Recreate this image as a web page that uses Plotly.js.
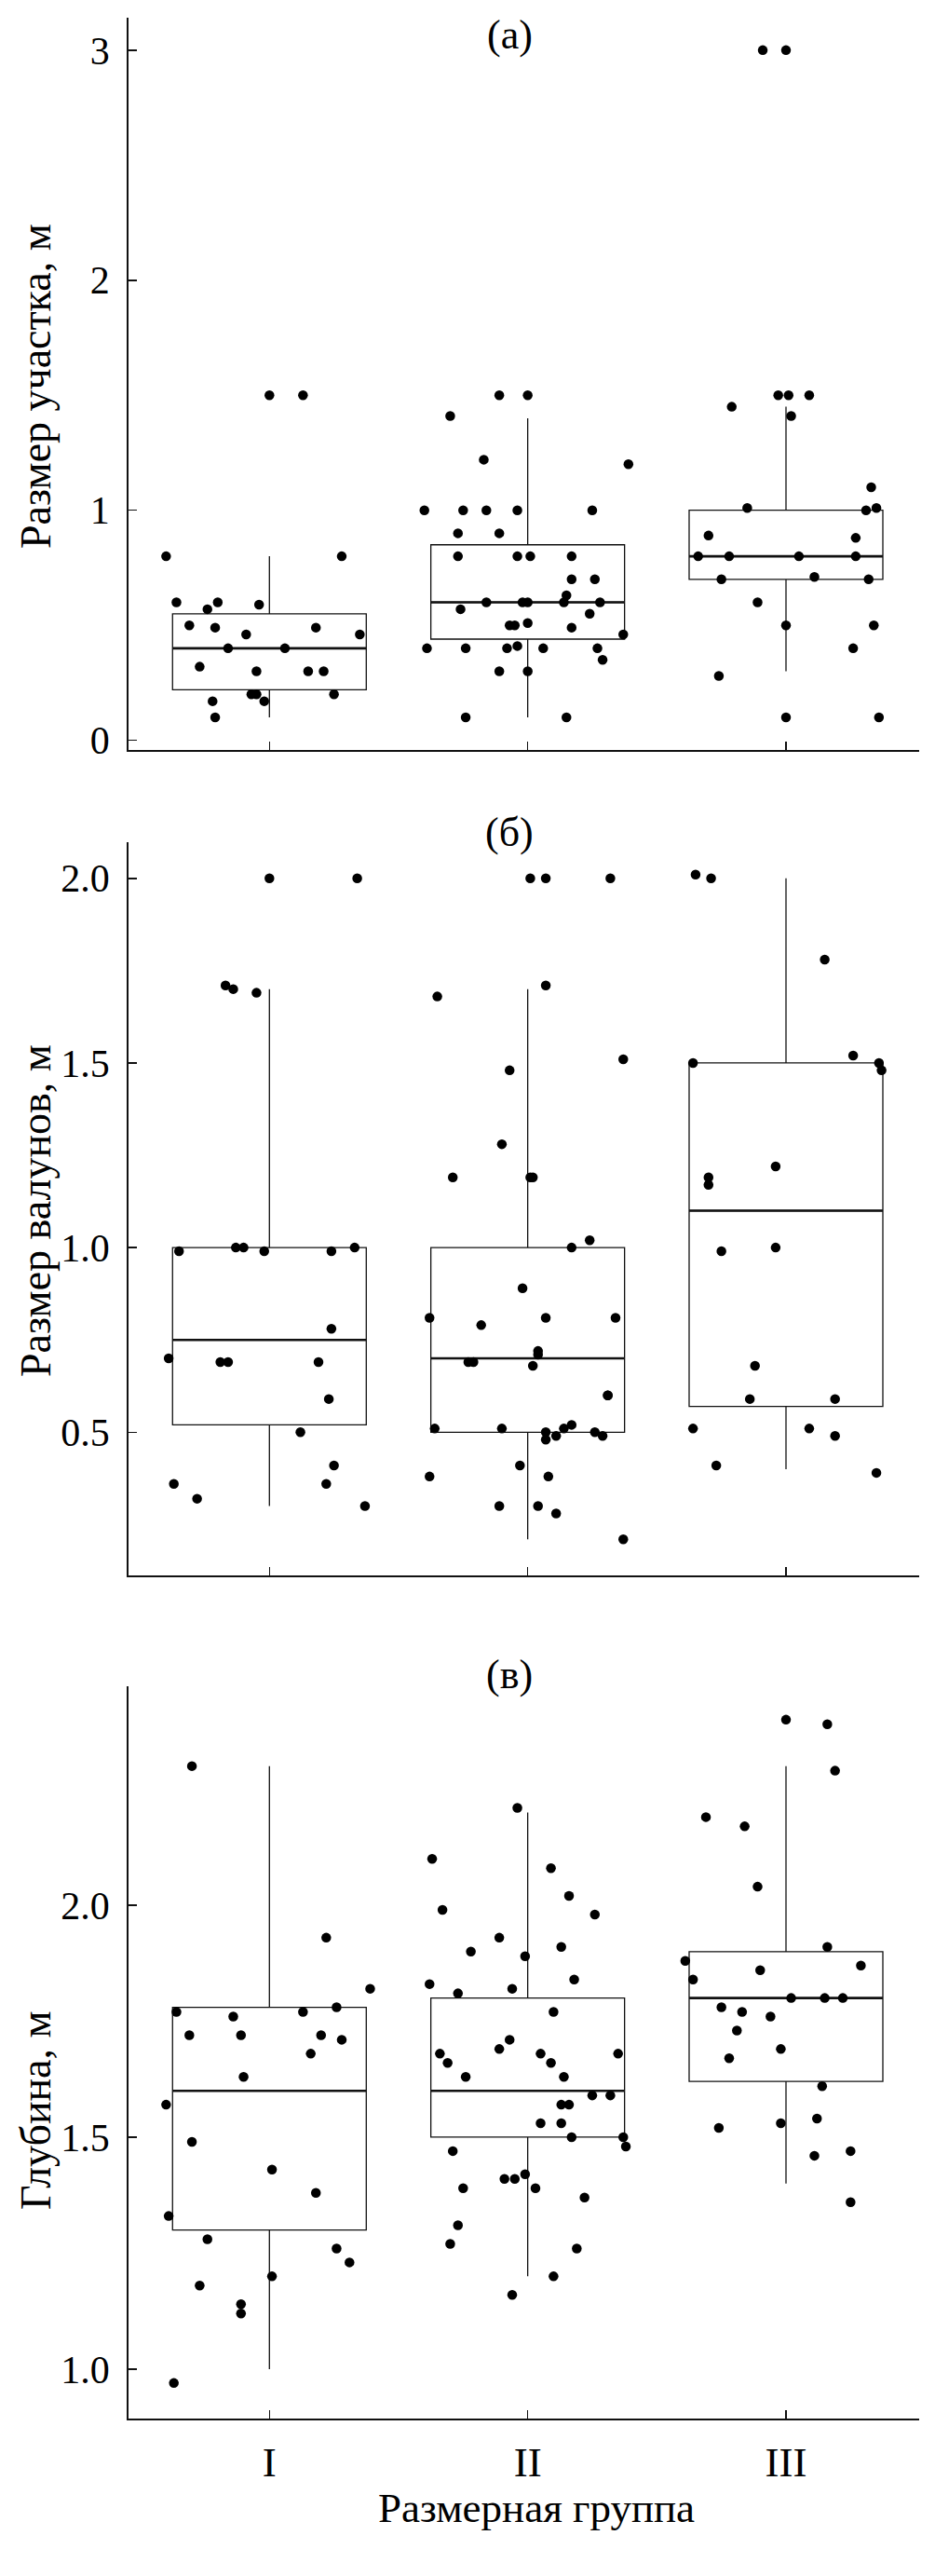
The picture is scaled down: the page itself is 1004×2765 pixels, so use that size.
<!DOCTYPE html>
<html><head><meta charset="utf-8">
<script src="https://cdn.plot.ly/plotly-3.0.1.min.js"></script>
<style>html,body{margin:0;padding:0;background:#fff}</style>
</head><body><div id="chart" style="width:1004px;height:2765px"></div>
<script>
// ---------- categories ----------
const groupLabels = ["I", "II", "III"];
const groupPos = [0, 1, 2];

// ---------- panel (а): Размер участка ----------
const aBoxQ1 = [0.22, 0.44, 0.70];
const aBoxMed = [0.40, 0.60, 0.80];
const aBoxQ3 = [0.55, 0.85, 1.00];
const aBoxLo = [0.10, 0.10, 0.30];
const aBoxHi = [0.80, 1.40, 1.45];
const aI = [0.80,1.50,1.50,0.80,0.60,0.57,0.60,0.59,0.50,0.49,0.46,0.40,0.40,0.49,0.46,0.32,0.30,0.30,0.30,0.17,0.10,0.20,0.20,0.17,0.20];
const aIjit = [-0.40,0.00,0.13,0.28,-0.36,-0.24,-0.20,-0.04,-0.31,-0.21,-0.09,-0.16,0.06,0.18,0.35,-0.27,-0.05,0.15,0.21,-0.22,-0.21,-0.07,-0.05,-0.02,0.25];
const aII = [1.41,1.50,1.50,1.22,1.20,1.00,1.00,1.00,1.00,1.00,0.90,0.90,0.80,0.80,0.80,0.80,0.70,0.70,0.63,0.60,0.60,0.60,0.60,0.60,0.57,0.55,0.50,0.50,0.51,0.49,0.46,0.40,0.40,0.40,0.41,0.40,0.40,0.35,0.30,0.30,0.10,0.10];
const aIIjit = [-0.30,-0.11,0.00,-0.17,0.39,-0.40,-0.25,-0.16,-0.04,0.25,-0.27,-0.11,-0.27,-0.04,0.01,0.17,0.17,0.26,0.15,-0.16,-0.02,0.00,0.14,0.28,-0.26,0.24,-0.07,-0.05,0.00,0.17,0.37,-0.39,-0.24,-0.08,-0.04,0.06,0.27,0.29,-0.11,0.00,-0.24,0.15];
const aIII = [3.00,3.00,1.50,1.50,1.50,1.45,1.41,1.10,1.01,1.00,1.01,0.89,0.88,0.80,0.80,0.80,0.80,0.70,0.71,0.70,0.60,0.50,0.50,0.40,0.28,0.10,0.10];
const aIIIjit = [-0.09,0.00,-0.03,0.01,0.09,-0.21,0.02,0.33,-0.15,0.31,0.35,-0.30,0.27,-0.34,-0.22,0.05,0.27,-0.25,0.11,0.32,-0.11,0.00,0.34,0.26,-0.26,0.00,0.36];
const aTicks = [0, 1, 2, 3];
const aTickText = ["0", "1", "2", "3"];

// ---------- panel (б): Размер валунов ----------
const bBoxQ1 = [0.52, 0.50, 0.57];
const bBoxMed = [0.75, 0.70, 1.10];
const bBoxQ3 = [1.00, 1.00, 1.50];
const bBoxLo = [0.30, 0.21, 0.40];
const bBoxHi = [1.70, 1.70, 2.00];
const bI = [2.00,2.00,1.71,1.70,1.69,0.99,1.00,1.00,0.99,0.99,1.00,0.78,0.70,0.69,0.69,0.69,0.59,0.50,0.41,0.36,0.36,0.32,0.30];
const bIjit = [0.00,0.34,-0.17,-0.14,-0.05,-0.35,-0.13,-0.10,-0.02,0.24,0.33,0.24,-0.39,-0.19,-0.16,0.19,0.23,0.12,0.25,-0.37,0.22,-0.28,0.37];
const bII = [2.00,2.00,2.00,1.71,1.68,1.51,1.48,1.28,1.19,1.19,1.19,1.02,1.00,0.89,0.81,0.81,0.81,0.79,0.72,0.71,0.69,0.69,0.68,0.60,0.60,0.51,0.51,0.50,0.52,0.51,0.50,0.49,0.49,0.48,0.41,0.38,0.38,0.30,0.30,0.28,0.21];
const bIIjit = [0.01,0.07,0.32,0.07,-0.35,0.37,-0.07,-0.10,-0.29,0.01,0.02,0.24,0.17,-0.02,-0.38,0.07,0.34,-0.18,0.04,0.04,-0.23,-0.21,0.02,0.31,0.31,-0.36,-0.10,0.07,0.17,0.14,0.26,0.29,0.11,0.07,-0.03,-0.38,0.08,-0.11,0.04,0.11,0.37];
const bIII = [2.01,2.00,1.78,1.50,1.52,1.50,1.48,1.22,1.19,1.17,0.99,1.00,0.68,0.59,0.59,0.51,0.51,0.49,0.41,0.39];
const bIIIjit = [-0.35,-0.29,0.15,-0.36,0.26,0.36,0.37,-0.04,-0.30,-0.30,-0.25,-0.04,-0.12,-0.14,0.19,-0.36,0.09,0.19,-0.27,0.35];
const bTicks = [0.5, 1.0, 1.5, 2.0];
const bTickText = ["0.5", "1.0", "1.5", "2.0"];

// ---------- panel (в): Глубина ----------
const cBoxQ1 = [1.30, 1.50, 1.62];
const cBoxMed = [1.60, 1.60, 1.80];
const cBoxQ3 = [1.78, 1.80, 1.90];
const cBoxLo = [1.00, 1.20, 1.40];
const cBoxHi = [2.30, 2.20, 2.30];
const cI = [2.30,1.77,1.76,1.72,1.72,1.77,1.93,1.78,1.82,1.72,1.68,1.71,1.63,1.57,1.49,1.43,1.38,1.33,1.28,1.26,1.23,1.20,1.18,1.14,1.12,0.97];
const cIjit = [-0.30,-0.36,-0.14,-0.31,-0.11,0.13,0.22,0.26,0.39,0.20,0.16,0.28,-0.10,-0.40,-0.30,0.01,0.18,-0.39,-0.24,0.26,0.31,0.01,-0.27,-0.11,-0.11,-0.37];
const cII = [2.21,2.10,2.08,1.99,2.02,1.98,1.93,1.90,1.89,1.91,1.83,1.84,1.81,1.82,1.77,1.68,1.66,1.69,1.71,1.68,1.66,1.68,1.63,1.63,1.59,1.59,1.57,1.57,1.53,1.53,1.50,1.50,1.48,1.47,1.41,1.41,1.42,1.39,1.39,1.37,1.31,1.27,1.26,1.20,1.16];
const cIIjit = [-0.04,-0.37,0.09,-0.33,0.16,0.26,-0.11,-0.22,-0.01,0.13,-0.38,0.18,-0.27,-0.06,0.10,-0.34,-0.31,-0.11,-0.07,0.05,0.09,0.35,-0.24,0.14,0.25,0.32,0.16,0.13,0.05,0.13,0.17,0.37,0.38,-0.29,-0.09,-0.05,-0.01,0.03,-0.25,0.22,-0.27,-0.30,0.19,0.10,-0.06];
const cIII = [2.40,2.39,2.29,2.19,2.17,2.04,1.88,1.91,1.84,1.86,1.87,1.80,1.80,1.80,1.78,1.77,1.76,1.73,1.69,1.67,1.61,1.53,1.54,1.52,1.46,1.47,1.36];
const cIIIjit = [0.00,0.16,0.19,-0.31,-0.16,-0.11,-0.39,0.16,-0.36,-0.10,0.29,0.02,0.15,0.22,-0.25,-0.17,-0.06,-0.19,-0.02,-0.22,0.14,-0.02,0.12,-0.26,0.11,0.25,0.25];
const cTicks = [1.0, 1.5, 2.0];
const cTickText = ["1.0", "1.5", "2.0"];

// ---------- texts ----------
const panelTitles = ["(а)", "(б)", "(в)"];
const yTitles = ["Размер участка, м", "Размер валунов, м", "Глубина, м"];
const xTitle = "Размерная группа";

// ---------- build ----------
const FONT = '"Liberation Serif", "Times New Roman", Times, serif';
const INK = '#111';
const BOXW = 0.75;

function panelTraces(ax, q1, med, q3, lo, hi, pts) {
  const xa = 'x' + ax, ya = 'y' + ax;
  const tr = [];
  tr.push({
    type: 'box', x: groupPos, q1: q1, median: med, q3: q3,
    lowerfence: lo, upperfence: hi, width: BOXW, whiskerwidth: 0,
    boxpoints: false, line: {color: INK, width: 1.3},
    fillcolor: 'rgba(0,0,0,0)', xaxis: xa, yaxis: ya,
    hoverinfo: 'skip', showlegend: false
  });
  // thicker median segments
  const mx = [], my = [];
  groupPos.forEach((g, i) => { mx.push(g - BOXW / 2, g + BOXW / 2, null); my.push(med[i], med[i], null); });
  tr.push({type: 'scatter', mode: 'lines', x: mx, y: my, line: {color: INK, width: 2.6},
    xaxis: xa, yaxis: ya, hoverinfo: 'skip', showlegend: false});
  pts.forEach((p, gi) => {
    tr.push({
      type: 'scatter', mode: 'markers',
      x: p[1].map(j => groupPos[gi] + j), y: p[0],
      marker: {color: '#000', size: 10.5},
      xaxis: xa, yaxis: ya, hoverinfo: 'skip', showlegend: false, cliponaxis: false
    });
  });
  return tr;
}

const data = [].concat(
  panelTraces('', aBoxQ1, aBoxMed, aBoxQ3, aBoxLo, aBoxHi, [[aI, aIjit], [aII, aIIjit], [aIII, aIIIjit]]),
  panelTraces('2', bBoxQ1, bBoxMed, bBoxQ3, bBoxLo, bBoxHi, [[bI, bIjit], [bII, bIIjit], [bIII, bIIIjit]]),
  panelTraces('3', cBoxQ1, cBoxMed, cBoxQ3, cBoxLo, cBoxHi, [[cI, cIjit], [cII, cIIjit], [cIII, cIIIjit]])
);

const W = 1004, H = 2765;
const xDomain = [138 / W, 987 / W];
function xAxis(anchor, showLabels) {
  return {
    domain: xDomain, anchor: anchor, range: [-0.5455, 2.5156],
    tickvals: groupPos, ticktext: groupLabels, showticklabels: showLabels,
    ticks: 'inside', ticklen: 9, tickwidth: 1.5, tickcolor: INK,
    ticklabelstandoff: 6,
    showline: true, linecolor: INK, linewidth: 1.8,
    showgrid: false, zeroline: false, fixedrange: true,
    tickfont: {family: FONT, size: 45, color: '#000'}
  };
}
function yAxis(anchor, top, bottom, range, tv, tt) {
  return {
    domain: [1 - bottom / H, 1 - top / H], anchor: anchor, range: range,
    tickvals: tv, ticktext: tt,
    ticks: 'inside', ticklen: 9, tickwidth: 1.5, tickcolor: INK,
    ticklabelstandoff: 10,
    showline: true, linecolor: INK, linewidth: 1.8,
    showgrid: false, zeroline: false, fixedrange: true,
    tickfont: {family: FONT, size: 42, color: '#000'}
  };
}

// text placements (page pixels)
const panelTitleY = [37, 893, 1797];
const yTitleY = [415, 1300, 2265];
const annotations = [];
panelTitles.forEach((t, i) => annotations.push({
  text: t, xref: 'paper', yref: 'paper',
  x: 547 / W, y: 1 - panelTitleY[i] / H, xanchor: 'center', yanchor: 'middle',
  showarrow: false, font: {family: FONT, size: 44, color: '#000'}
}));
yTitles.forEach((t, i) => annotations.push({
  text: t, xref: 'paper', yref: 'paper', textangle: -90,
  x: 38 / W, y: 1 - yTitleY[i] / H, xanchor: 'center', yanchor: 'middle',
  showarrow: false, font: {family: FONT, size: 46, color: '#000'}
}));
annotations.push({
  text: xTitle, xref: 'paper', yref: 'paper',
  x: 576 / W, y: 1 - 2692 / H, xanchor: 'center', yanchor: 'middle',
  showarrow: false, font: {family: FONT, size: 45, color: '#000'}
});

const layout = {
  width: W, height: H,
  margin: {l: 0, r: 0, t: 0, b: 0},
  paper_bgcolor: '#fff', plot_bgcolor: '#fff',
  showlegend: false,
  font: {family: FONT, color: '#000'},
  xaxis: xAxis('y', false),
  xaxis2: xAxis('y2', false),
  xaxis3: xAxis('y3', true),
  yaxis: yAxis('x', 19.3, 805, [-0.042, 3.14], aTicks, aTickText),
  yaxis2: yAxis('x2', 904.3, 1690.7, [0.113, 2.097], bTicks, bTickText),
  yaxis3: yAxis('x3', 1810, 2595.7, [0.894, 2.472], cTicks, cTickText),
  annotations: annotations
};

Plotly.newPlot('chart', data, layout, {displayModeBar: false, staticPlot: true});
</script>
</body></html>
